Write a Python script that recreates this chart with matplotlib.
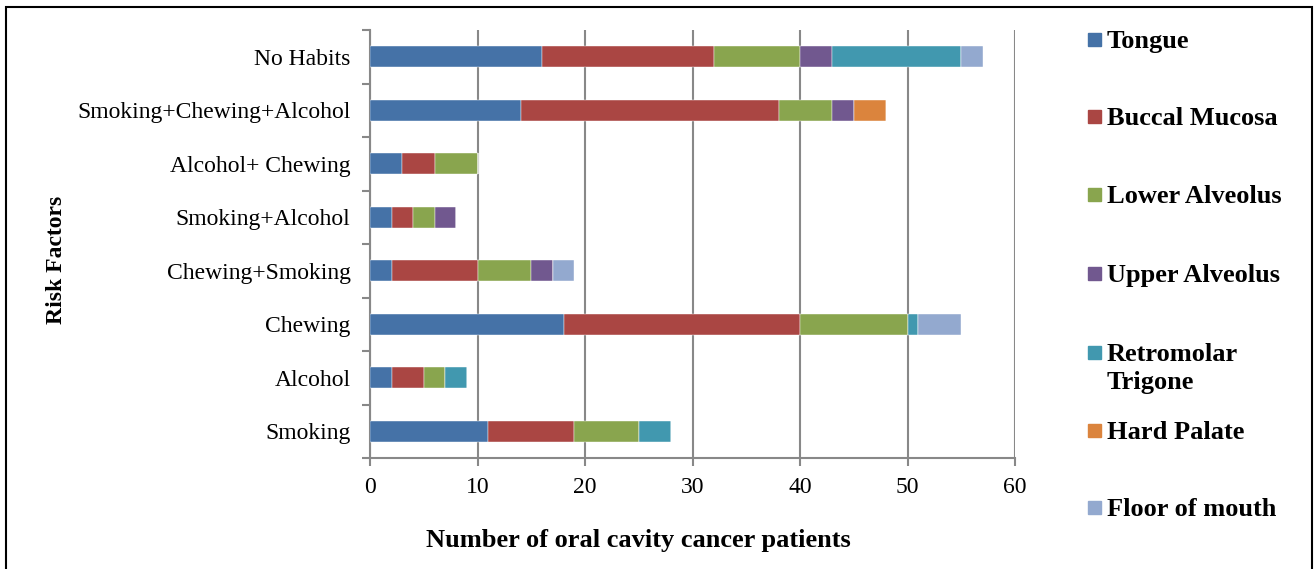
import numpy as np
import matplotlib
matplotlib.use('Agg')
import matplotlib.pyplot as plt
from matplotlib.patches import Rectangle

plt.rcParams['font.family'] = ['Liberation Serif', 'DejaVu Serif']

# categories, bottom to top as drawn
risk_factors = ['Smoking', 'Alcohol', 'Chewing', 'Chewing+Smoking',
                'Smoking+Alcohol', 'Alcohol+ Chewing',
                'Smoking+Chewing+Alcohol', 'No Habits']

tongue        = [11, 2, 18, 2, 2, 3, 14, 16]
buccal_mucosa = [8, 3, 22, 8, 2, 3, 24, 16]
lower_alv     = [6, 2, 10, 5, 2, 4, 5, 8]
upper_alv     = [0, 0, 0, 2, 2, 0, 2, 3]
retromolar    = [3, 2, 1, 0, 0, 0, 0, 12]
hard_palate   = [0, 0, 0, 0, 0, 0, 3, 0]
floor_mouth   = [0, 0, 4, 2, 0, 0, 0, 2]

series = [tongue, buccal_mucosa, lower_alv, upper_alv, retromolar, hard_palate, floor_mouth]
names = ['Tongue', 'Buccal Mucosa', 'Lower Alveolus', 'Upper Alveolus',
         'Retromolar\nTrigone', 'Hard Palate', 'Floor of mouth']
colors = ['#4572A7', '#AA4643', '#89A54E', '#71588F', '#4198AF', '#DB843D', '#93A9CF']

fig = plt.figure(figsize=(13.16, 5.69), dpi=100)
ax = fig.add_axes([370/1316, 1-458/569, (1015-370)/1316, (458-30)/569])

y = np.arange(len(risk_factors))
left = np.zeros(len(risk_factors))
for vals, col in zip(series, colors):
    vals = np.array(vals, dtype=float)
    ax.barh(y, vals, left=left, height=0.4, color=col, edgecolor='white', linewidth=0.3, zorder=3)
    left += vals

ax.set_xlim(0, 60)
ax.set_ylim(-0.5, len(risk_factors) - 0.5)
ax.set_xticks(np.arange(0, 61, 10))
ax.set_yticks(y)
ax.set_yticklabels(risk_factors, fontsize=17)
ax.set_yticks(np.arange(-0.5, len(risk_factors), 1), minor=True)
ax.tick_params(axis='y', which='major', length=0, pad=14)
ax.tick_params(axis='y', which='minor', length=6, width=1.5, color='#888888')
ax.tick_params(axis='x', length=6, width=1.5, color='#888888', labelsize=17, pad=8)
ax.grid(axis='x', color='#888888', linewidth=1.5, zorder=0)
for s in ['top', 'right']:
    ax.spines[s].set_visible(False)
for s in ['left', 'bottom']:
    ax.spines[s].set_color('#888888')
    ax.spines[s].set_linewidth(1.5)

fig.text(638/1316, 1-541/569, 'Number of oral cavity cancer patients',
         fontsize=19, fontweight='bold', ha='center', va='center')
fig.text(57/1316, 1-260/569, 'Risk Factors', fontsize=17, fontweight='bold',
         rotation=90, ha='center', va='center')

# legend drawn by hand to follow the original spacing
leg_y = [39, 116, 194, 273, 352, 430, 507]
for name, col, ly in zip(names, colors, leg_y):
    fig.patches.append(Rectangle((1088/1316, 1-(ly+7)/569), 13/1316, 13/569,
                                 transform=fig.transFigure, color=col))
    fig.text(1107/1316, 1-(ly-9)/569, name, fontsize=19, fontweight='bold',
             ha='left', va='top', linespacing=1.25)

fig.patches.append(Rectangle((6/1316, -0.05), (1312-6)/1316, 1-7/569+0.05,
                             transform=fig.transFigure, fill=False,
                             edgecolor='black', linewidth=1.5))

fig.savefig('out.png', dpi=100)
